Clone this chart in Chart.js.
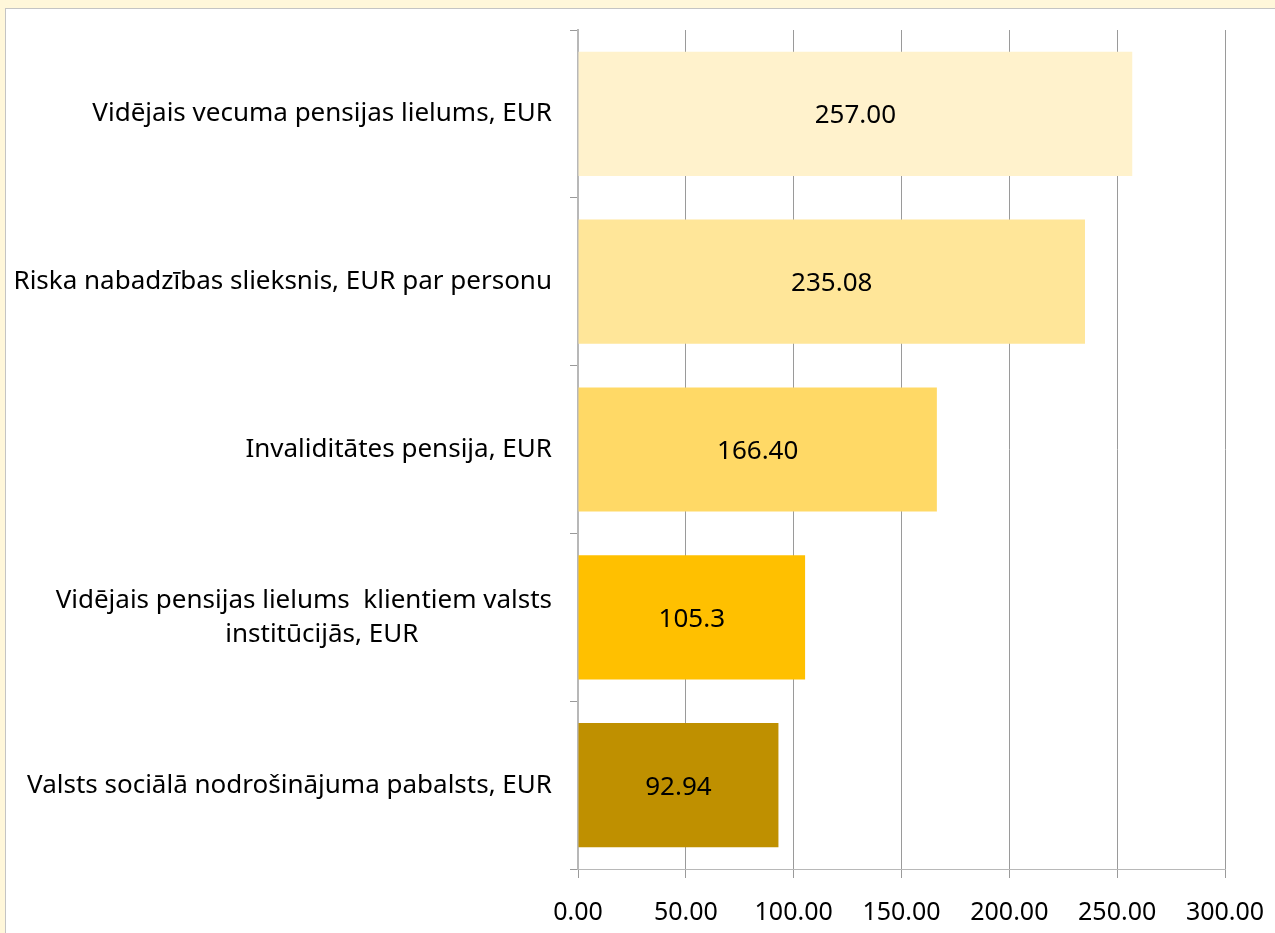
<!DOCTYPE html>
<html>
<head>
<meta charset="utf-8">
<script src="https://cdn.jsdelivr.net/npm/chart.js@4/dist/chart.umd.min.js"></script>
<style>
    html, body { margin: 0; padding: 0; }
    body { width: 1275px; height: 933px; background: #fff7da; overflow: hidden; position: relative; }
    #panel { position: absolute; left: 5px; top: 8px; width: 1280px; height: 940px; background: #fff; border: 1px solid #c4c4c4; }
    #wrap { position: absolute; left: 0; top: 0; width: 1275px; height: 933px; }
</style>
</head>
<body>
<div id="panel"></div>
<div id="wrap"><canvas id="chart"></canvas></div>
<script>
// Chart data
const categories = [
    'Vidējais vecuma pensijas lielums, EUR',
    'Riska nabadzības slieksnis, EUR par personu',
    'Invaliditātes pensija, EUR',
    ['Vidējais pensijas lielums  klientiem valsts', 'institūcijās, EUR'],
    'Valsts sociālā nodrošinājuma pabalsts, EUR'
];
const values = [257.00, 235.08, 166.40, 105.3, 92.94];
const valueLabels = ['257.00', '235.08', '166.40', '105.3', '92.94'];
const barColors = ['#fff2cc', '#ffe699', '#ffd966', '#ffc000', '#bf9000'];
const xTicks = [0, 50, 100, 150, 200, 250, 300];

const fontFamily = "'Noto Sans', sans-serif";

// Value labels in the middle of each bar, and category labels
// (multi-line labels are centred line by line, like the original)
const labelPlugin = {
    id: 'labels',
    afterDatasetsDraw(chart) {
        const ctx = chart.ctx;
        const meta = chart.getDatasetMeta(0);
        ctx.save();
        ctx.font = '26px ' + fontFamily;
        ctx.fillStyle = '#000';
        ctx.textAlign = 'center';
        ctx.textBaseline = 'middle';
        meta.data.forEach((bar, i) => {
            const cx = (bar.x + bar.base) / 2;
            ctx.fillText(valueLabels[i], cx, bar.y + 2);
        });

        const yScale = chart.scales.y;
        const rightEdge = yScale.right - 26;
        const lineHeight = 34;
        categories.forEach((label, i) => {
            const lines = Array.isArray(label) ? label : [label];
            const widths = lines.map(l => ctx.measureText(l).width);
            const blockW = Math.max(...widths);
            const cy = yScale.getPixelForValue(i);
            const startY = cy - (lines.length - 1) * lineHeight / 2;
            lines.forEach((line, j) => {
                ctx.fillText(line, rightEdge - blockW / 2 + j * 18, startY + j * lineHeight);
            });
        });
        ctx.restore();
    }
};

const ctx = document.getElementById('chart').getContext('2d');
const chart = new Chart(ctx, {
    type: 'bar',
    data: {
        labels: categories,
        datasets: [{
            data: values,
            backgroundColor: barColors,
            categoryPercentage: 0.74,
            barPercentage: 1.0
        }]
    },
    options: {
        indexAxis: 'y',
        responsive: true,
        maintainAspectRatio: false,
        animation: false,
        layout: { padding: { left: 0, right: 50, top: 30, bottom: 0 } },
        plugins: {
            legend: { display: false },
            tooltip: { enabled: false }
        },
        scales: {
            x: {
                min: 0,
                max: 300,
                afterBuildTicks(scale) {
                    scale.ticks = xTicks.map(v => ({ value: v }));
                },
                afterFit(scale) {
                    scale.height = 64;
                    scale.paddingLeft = 0;
                    scale.paddingRight = 0;
                },
                grid: {
                    color: '#9a9a9a',
                    lineWidth: 1,
                    tickLength: 9
                },
                border: { color: '#b8b8b8', width: 1 },
                ticks: {
                    color: '#000',
                    padding: 20,
                    font: { family: fontFamily, size: 25 },
                    callback: v => Number(v).toFixed(2)
                }
            },
            y: {
                afterFit(scale) { scale.width = 578; },
                grid: {
                    drawOnChartArea: false,
                    color: '#9a9a9a',
                    tickLength: 8
                },
                border: { color: '#b8b8b8', width: 2 },
                ticks: {
                    display: false
                }
            }
        }
    },
    plugins: [labelPlugin]
});
</script>
</body>
</html>
